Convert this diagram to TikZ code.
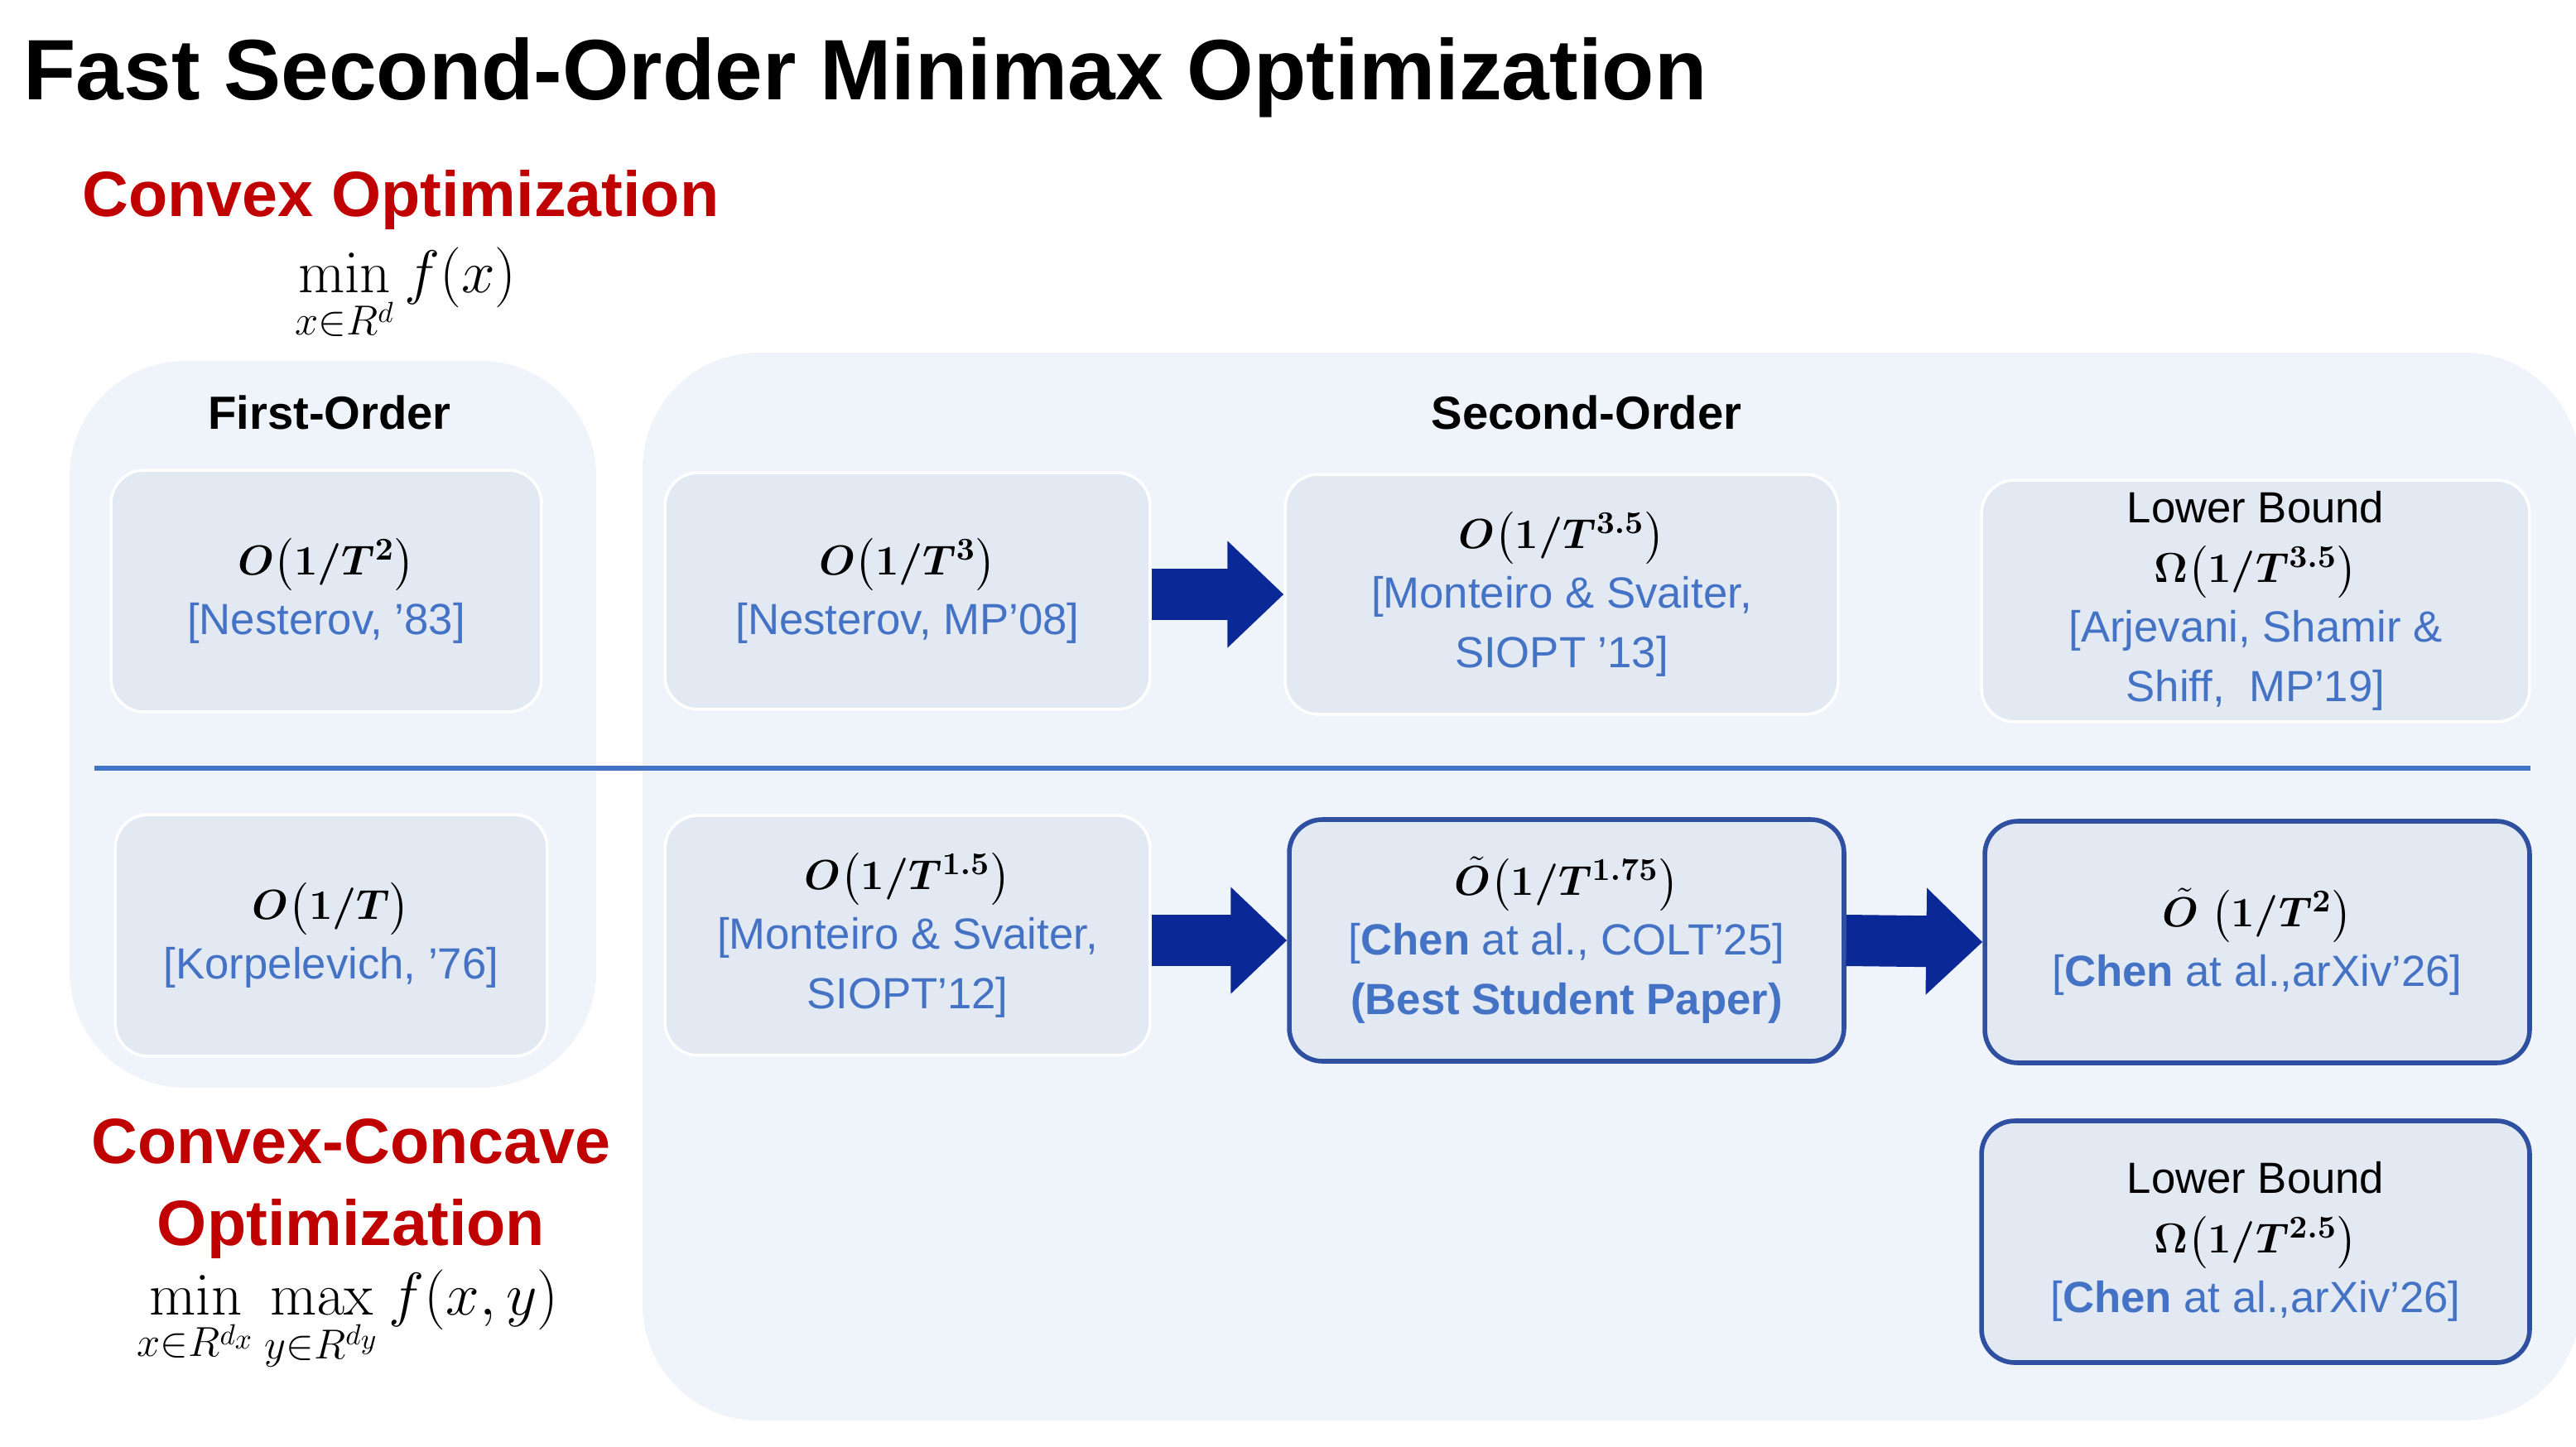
\documentclass[tikz,border=0pt]{standalone}
\usepackage{amsmath,amssymb,bm}
\usepackage[no-math]{fontspec}
\setmainfont{Liberation Sans}
\usetikzlibrary{arrows.meta}
\definecolor{panel}{HTML}{EFF3FA}
\definecolor{cell}{HTML}{E3E9F3}
\definecolor{cite}{HTML}{4472C4}
\definecolor{frame}{HTML}{2F4FA0}
\definecolor{arrowblue}{HTML}{0A2896}
\definecolor{headred}{HTML}{C00000}
\tikzset{
  panelbox/.style={fill=panel, draw=none, rounded corners=1.4cm},
  cellbox/.style={fill=cell, draw=white, line width=1pt, rounded corners=0.4cm,
    align=center, font=\fontsize{15}{20.5}\selectfont, inner sep=0pt},
  hotbox/.style={cellbox, draw=frame, line width=1.6pt},
  bigarrow/.style={arrowblue, line width=0.62cm, -{Triangle[length=0.68cm,width=1.25cm]}},
  redhead/.style={headred, font=\bfseries\fontsize{22}{28}\selectfont, align=center},
  colhead/.style={font=\bfseries\fontsize{16}{20}\selectfont},
  formula/.style={font=\fontsize{20}{24}\selectfont}
}
\newcommand{\cit}[1]{{\color{cite}#1}}
\begin{document}
\begin{tikzpicture}[x=0.02cm,y=-0.02cm]
\useasboundingbox (0,0) rectangle (1555.5,873.5);

% panels
\fill[panelbox] (42,218) rectangle (360,657);
\fill[panelbox] (388,213) rectangle (1558,858);

% headings
\node[anchor=west, font=\bfseries\fontsize{29.5}{34}\selectfont] (title) at (8,47) {Fast Second-Order Minimax Optimization};
\node[redhead] (convex) at (242,121) {Convex Optimization};
\node[formula] (convexf) at (245,178) {$\displaystyle\min_{x\in R^d} f(x)$};
\node[colhead] (first) at (199,249) {First-Order};
\node[colhead] (second) at (958,249) {Second-Order};

% convex row
\node[cellbox, minimum width=5.2cm, minimum height=2.92cm] (nest83) at (197,357)
  {$\bm{O}\big(\bm{1/T^{2}}\big)$\\ \cit{[Nesterov, '83]}};
\node[cellbox, minimum width=5.86cm, minimum height=2.86cm] (nest08) at (548,357)
  {$\bm{O}\big(\bm{1/T^{3}}\big)$\\ \cit{[Nesterov, MP'08]}};
\node[cellbox, minimum width=6.68cm, minimum height=2.9cm] (ms13) at (943,359)
  {$\bm{O}\big(\bm{1/T^{3.5}}\big)$\\ \cit{[Monteiro \& Svaiter,}\\ \cit{SIOPT '13]}};
\node[cellbox, minimum width=6.62cm, minimum height=2.92cm] (lb1) at (1362,363)
  {Lower Bound\\ $\bm{\Omega}\big(\bm{1/T^{3.5}}\big)$\\ \cit{[Arjevani, Shamir \&}\\ \cit{Shiff,\ \ MP'19]}};

% separator
\draw[cite, line width=1.6pt] (57,464) -- (1528,464);

% convex-concave row
\node[cellbox, minimum width=5.22cm, minimum height=2.92cm] (korp) at (200,565)
  {$\bm{O}\big(\bm{1/T}\big)$\\ \cit{[Korpelevich, '76]}};
\node[cellbox, minimum width=5.86cm, minimum height=2.9cm] (ms12) at (548,565)
  {$\bm{O}\big(\bm{1/T^{1.5}}\big)$\\ \cit{[Monteiro \& Svaiter,}\\ \cit{SIOPT'12]}};
\node[hotbox, minimum width=6.7cm, minimum height=2.92cm] (colt) at (946,568)
  {$\tilde{\bm{O}}\big(\bm{1/T^{1.75}}\big)$\\ \cit{[\textbf{Chen} at al., COLT'25]}\\ \cit{\textbf{(Best Student Paper)}}};
\node[hotbox, minimum width=6.58cm, minimum height=2.92cm] (arx) at (1363,569)
  {$\tilde{\bm{O}}\ \big(\bm{1/T^{2}}\big)$\\ \cit{[\textbf{Chen} at al.,arXiv'26]}};
\node[hotbox, minimum width=6.62cm, minimum height=2.92cm] (lb2) at (1362,750)
  {Lower Bound\\ $\bm{\Omega}\big(\bm{1/T^{2.5}}\big)$\\ \cit{[\textbf{Chen} at al.,arXiv'26]}};

% arrows
\draw[bigarrow] (nest08.east |- ms13.west) -- (ms13.west);
\draw[bigarrow] (ms12.east |- colt.west) -- (colt.west);
\draw[bigarrow] (colt.east) -- (arx.west);

% bottom heading
\node[redhead] (cc) at (212,718) {Convex-Concave\\ Optimization};
\node[formula] (ccf) at (210,798) {$\displaystyle\min_{x\in R^{d_x}}\max_{y\in R^{d_y}} f(x,y)$};
\end{tikzpicture}
\end{document}
